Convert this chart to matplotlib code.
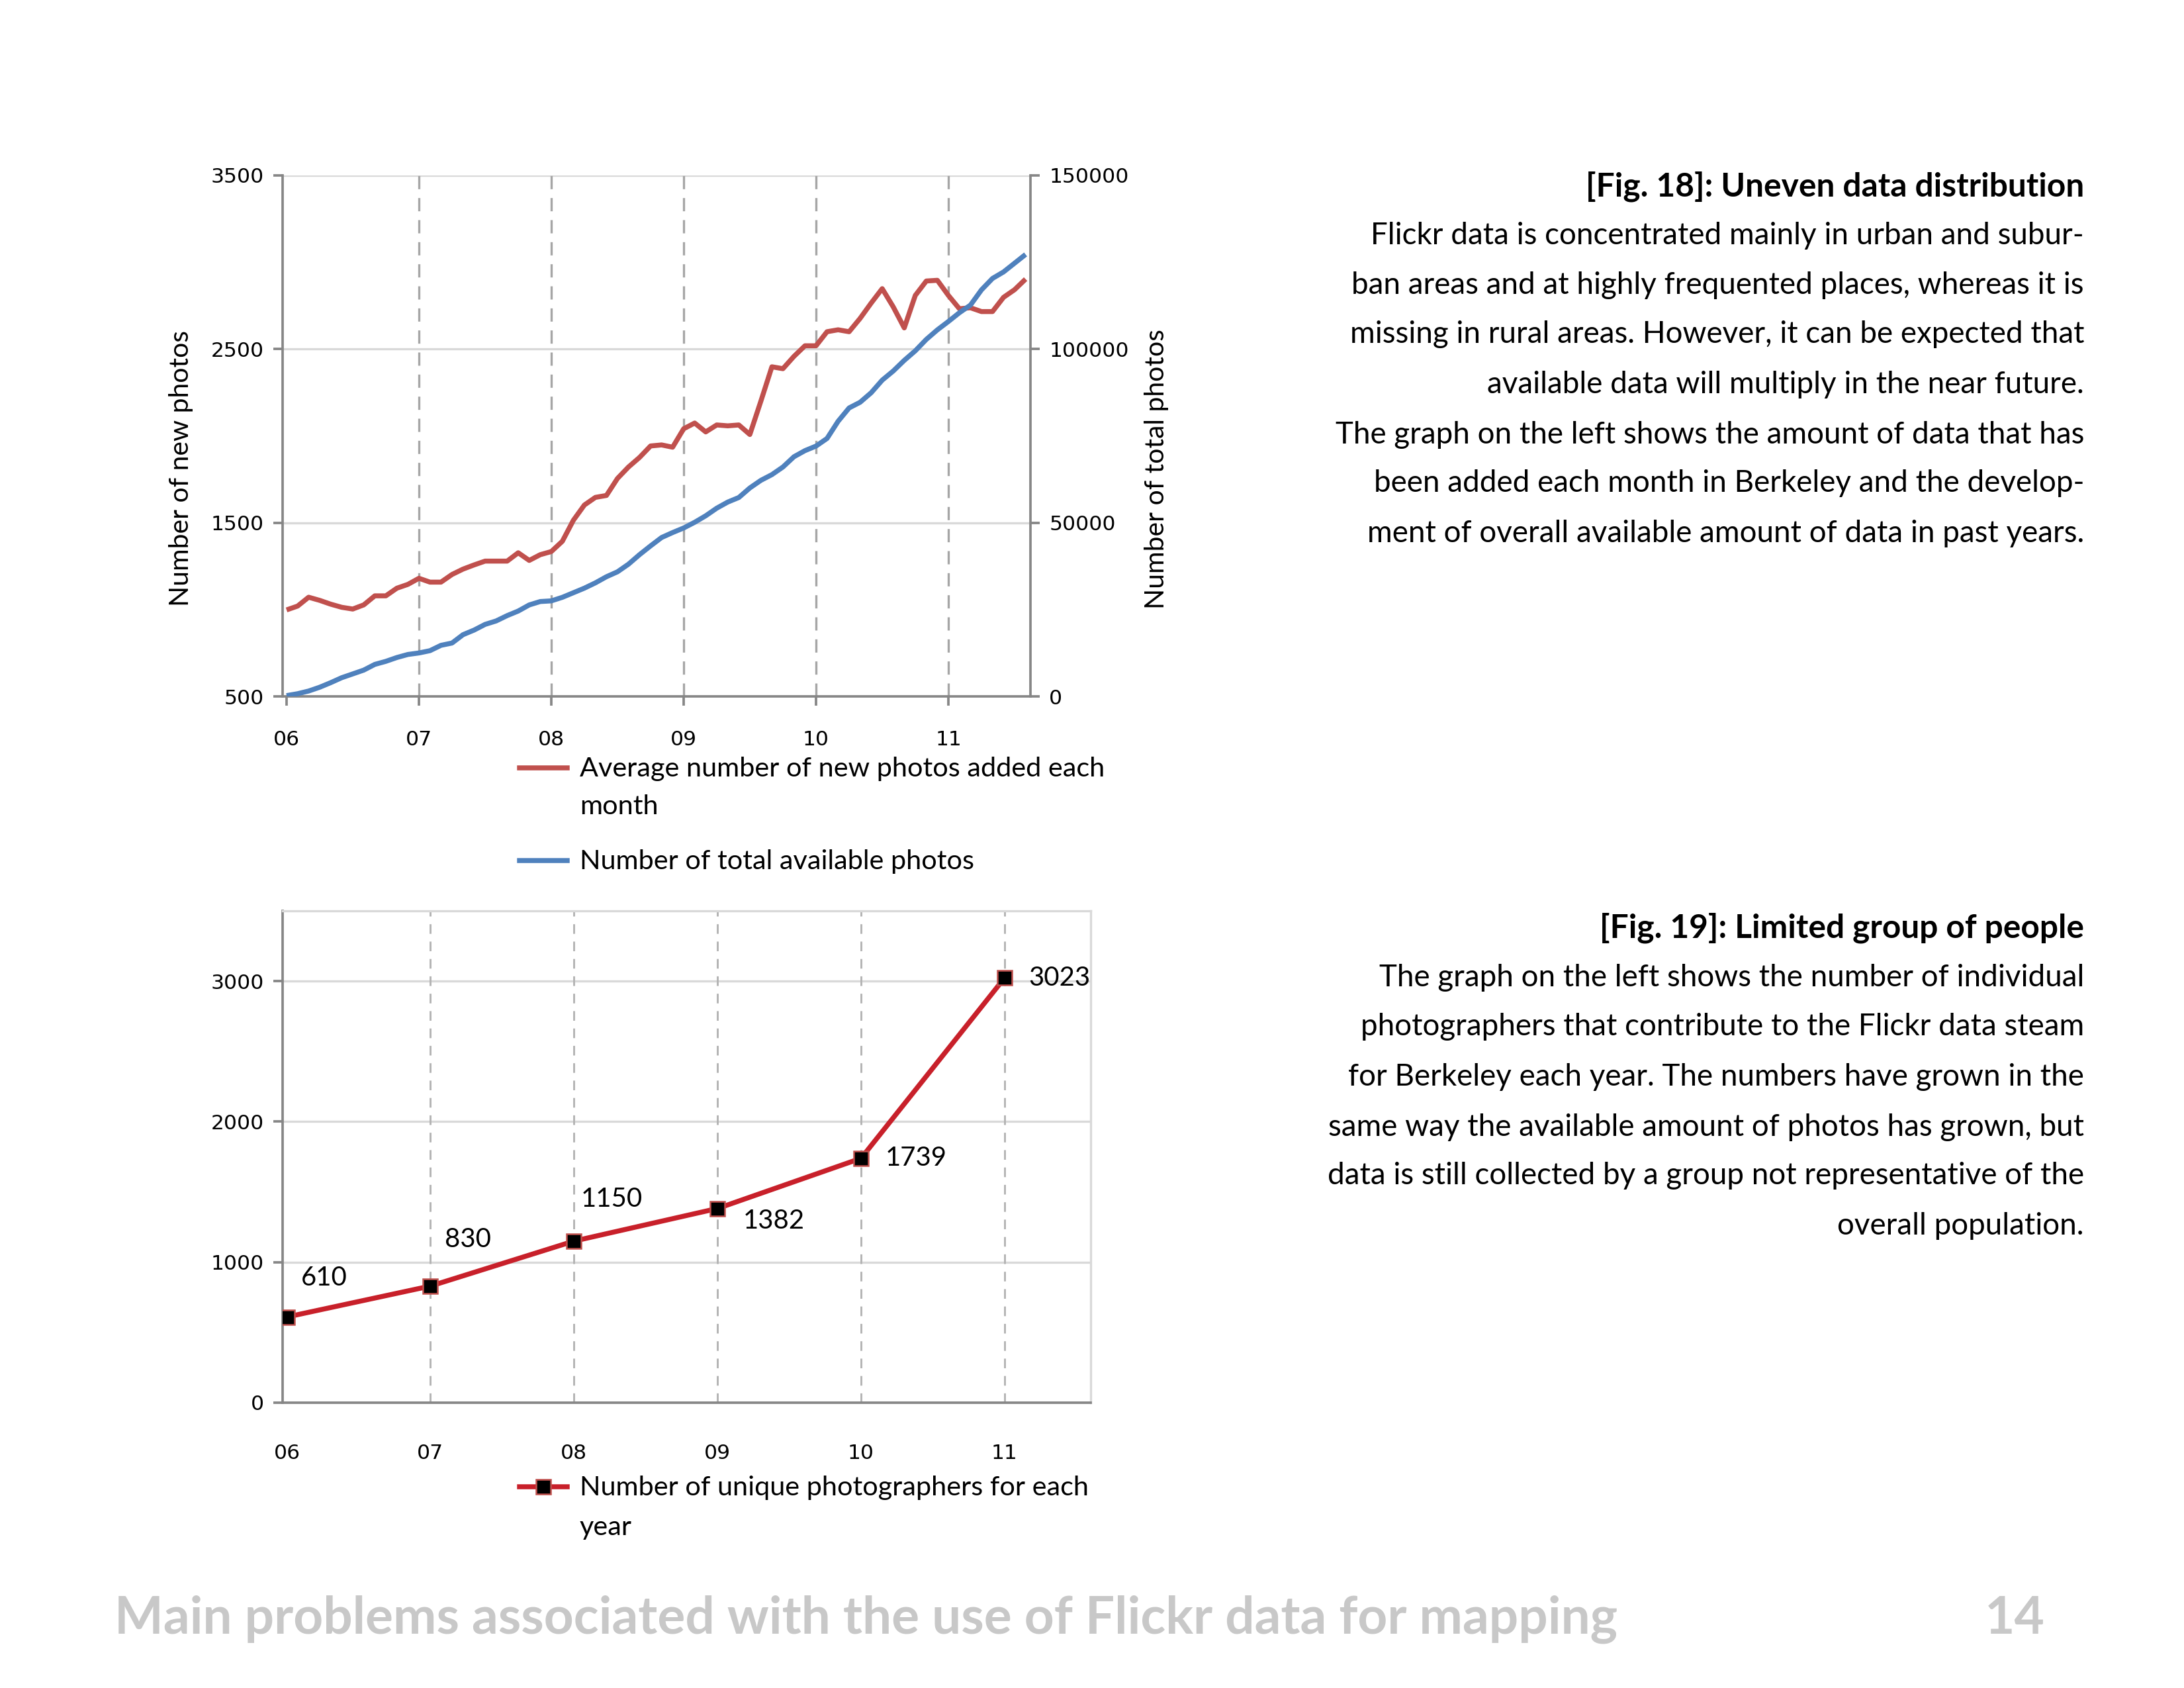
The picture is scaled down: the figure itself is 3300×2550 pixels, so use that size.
import matplotlib
matplotlib.use('Agg')
import matplotlib.pyplot as plt
import numpy as np

# monthly values Jan 2006 - Aug 2011
new_photos = [998, 1020, 1071, 1053, 1031, 1013, 1003, 1027, 1079, 1079, 1123, 1145,
              1180, 1158, 1158, 1202, 1233, 1257, 1279, 1279, 1279, 1327, 1283, 1316,
              1334, 1393, 1514, 1602, 1646, 1657, 1755, 1821, 1876, 1942, 1948, 1935,
              2041, 2074, 2023, 2063, 2058, 2063, 2008, 2200, 2398, 2387, 2458, 2519,
              2519, 2600, 2611, 2600, 2677, 2765, 2848, 2743, 2622, 2809, 2892, 2896,
              2809, 2732, 2738, 2716, 2716, 2798, 2842, 2903]
total_photos = [220, 770, 1540, 2630, 3950, 5380, 6470, 7570, 9210, 10090, 11190, 12070,
                12500, 13160, 14700, 15360, 17770, 19090, 20730, 21720, 23260, 24570, 26330, 27310,
                27500, 28520, 29840, 31160, 32690, 34450, 35870, 38070, 40810, 43330, 45740, 47170,
                48490, 50130, 52000, 54190, 55950, 57260, 60010, 62200, 63850, 66040, 69000, 70760,
                72070, 74270, 79200, 83050, 84690, 87430, 91050, 93680, 96750, 99500, 102790, 105530,
                107940, 110470, 112660, 117050, 120340, 122210, 124730, 127250]
year_labels = ['06', '07', '08', '09', '10', '11']
photographers = [610, 830, 1150, 1382, 1739, 3023]

text_18 = ['Flickr data is concentrated mainly in urban and subur-',
           'ban areas and at highly frequented places, whereas it is',
           'missing in rural areas. However, it can be expected that',
           'available data will multiply in the near future.',
           'The graph on the left shows the amount of data that has',
           'been added each month in Berkeley and the develop-',
           'ment of overall available amount of data in past years.']
text_19 = ['The graph on the left shows the number of individual',
           'photographers that contribute to the Flickr data steam',
           'for Berkeley each year. The numbers have grown in the',
           'same way the available amount of photos has grown, but',
           'data is still collected by a group not representative of the',
           'overall population.']

W, H = 3300, 2550
fig = plt.figure(figsize=(11, 8.5), dpi=300)
renderer = fig.canvas.get_renderer()

BODY = 'Lato'
TICK = 'DejaVu Sans'
AXC = '#868686'
GRID = '#d9d9d9'
VGRID = '#a6a6a6'


def fx(x):
    return x / W


def fy(y):
    return 1 - y / H


def rect(l, t, r, b):
    return [fx(l), fy(b), (r - l) / W, (b - t) / H]


def fit(text, width, **kw):
    # font size that makes the text this many pixels wide
    t = fig.text(0, 0, text, fontsize=10, **kw)
    w = t.get_window_extent(renderer).width
    t.remove()
    return 10 * width / w


body_fs = fit(text_18[0], 1075, family=BODY)
title_fs = fit('[Fig. 18]: Uneven data distribution', 753, family=BODY, weight='bold')
tick_fs = fit('3500', 80, family=TICK)

# ---- top chart ----
ax = fig.add_axes(rect(427, 265, 1557, 1052))
x = np.arange(len(new_photos)) / 12
ax.plot(x, new_photos, color='#c0504d', lw=1.8, solid_capstyle='butt', zorder=3)
ax.set_xlim(-0.03, 5.62)
ax.set_ylim(500, 3500)
ax.set_yticks([500, 1500, 2500, 3500])
ax.set_xticks(range(6))
ax.set_xticklabels(year_labels)
ax.grid(axis='y', color=GRID, lw=0.8)
for i in range(1, 6):
    ax.axvline(i, color=VGRID, lw=0.8, ls=(0, (6, 4)), zorder=1)
ax.set_axisbelow(True)
for s in ['top', 'right']:
    ax.spines[s].set_visible(False)
for s in ['left', 'bottom']:
    ax.spines[s].set_color(AXC)
    ax.spines[s].set_linewidth(0.9)
ax.tick_params(colors=AXC, labelcolor='black', labelsize=tick_fs, length=3.3, width=0.9)
ax.tick_params(axis='x', pad=9)
for lb in ax.get_xticklabels() + ax.get_yticklabels():
    lb.set_family(TICK)

ax2 = ax.twinx()
ax2.plot(x, total_photos, color='#4f81bd', lw=1.8, solid_capstyle='butt', zorder=3)
ax2.set_ylim(0, 150000)
ax2.set_yticks([0, 50000, 100000, 150000])
for s in ['top', 'left', 'bottom']:
    ax2.spines[s].set_visible(False)
ax2.spines['right'].set_color(AXC)
ax2.spines['right'].set_linewidth(0.9)
ax2.tick_params(colors=AXC, labelcolor='black', labelsize=tick_fs, length=3.3, width=0.9)
for lb in ax2.get_yticklabels():
    lb.set_family(TICK)

lab_fs = fit('Number of new photos', 417, family=BODY)
fig.text(fx(274), fy(707), 'Number of new photos', rotation=90, ha='center', va='center',
         fontsize=lab_fs, family=BODY)
fig.text(fx(1747), fy(709), 'Number of total photos', rotation=90, ha='center', va='center',
         fontsize=lab_fs, family=BODY)

leg_fs = fit('Average number of new photos added each', 793, family=BODY)
fig.add_artist(plt.Line2D([fx(785), fx(857)], [fy(1160), fy(1160)], color='#c0504d', lw=1.8))
fig.add_artist(plt.Line2D([fx(785), fx(857)], [fy(1300), fy(1300)], color='#4f81bd', lw=1.8))
fig.text(fx(876), fy(1162), 'Average number of new photos added each', va='center',
         fontsize=leg_fs, family=BODY)
fig.text(fx(876), fy(1219), 'month', va='center', fontsize=leg_fs, family=BODY)
fig.text(fx(876), fy(1301), 'Number of total available photos', va='center',
         fontsize=leg_fs, family=BODY)

# ---- bottom chart ----
bx = fig.add_axes(rect(427, 1376, 1648, 2119))
xi = np.arange(len(photographers))
bx.plot(xi, photographers, color='#c8202a', lw=1.8, marker='s', ms=5.2,
        mfc='black', mec='#c0504d', mew=0.6, zorder=3)
bx.set_xlim(-0.03, 5.6)
bx.set_ylim(0, 3500)
bx.set_yticks([0, 1000, 2000, 3000])
bx.set_xticks(xi)
bx.set_xticklabels(year_labels)
bx.grid(axis='y', color=GRID, lw=0.8)
for i in range(1, 6):
    bx.axvline(i, color='#b4b4b4', lw=0.7, ls=(0, (5, 4)), zorder=1)
bx.set_axisbelow(True)
for s in ['top', 'right']:
    bx.spines[s].set_color(GRID)
    bx.spines[s].set_linewidth(0.8)
for s in ['left', 'bottom']:
    bx.spines[s].set_color(AXC)
    bx.spines[s].set_linewidth(0.9)
bx.tick_params(colors=AXC, labelcolor='black', labelsize=tick_fs, length=3.3, width=0.9)
bx.tick_params(axis='x', length=0, pad=15)
for lb in bx.get_xticklabels() + bx.get_yticklabels():
    lb.set_family(TICK)

dl_fs = fit('3023', 93, family=BODY)
offsets = [(0.1, 280), (0.1, 330), (0.05, 300), (0.18, -90), (0.17, 0), (0.17, 0)]
for i, v in enumerate(photographers):
    dx, dy = offsets[i]
    bx.text(i + dx, v + dy, str(v), ha='left', va='center', fontsize=dl_fs, family=BODY)

fig.add_artist(plt.Line2D([fx(785), fx(857)], [fy(2246), fy(2246)], color='#c8202a', lw=1.8))
fig.add_artist(plt.Line2D([fx(821)], [fy(2246)], marker='s', ms=5.2, mfc='black',
                          mec='#c0504d', mew=0.6, lw=0))
fig.text(fx(876), fy(2248), 'Number of unique photographers for each', va='center',
         fontsize=leg_fs, family=BODY)
fig.text(fx(876), fy(2307), 'year', va='center', fontsize=leg_fs, family=BODY)

# ---- side text ----
fig.text(fx(3149), fy(282), '[Fig. 18]: Uneven data distribution', ha='right', va='center',
         fontsize=title_fs, family=BODY, weight='bold')
ys = [356, 431, 505, 581, 657, 730, 806]
for t, y in zip(text_18, ys):
    fig.text(fx(3149), fy(y), t, ha='right', va='center', fontsize=body_fs, family=BODY)

fig.text(fx(3149), fy(1402), '[Fig. 19]: Limited group of people', ha='right', va='center',
         fontsize=title_fs, family=BODY, weight='bold')
ys = [1477, 1551, 1627, 1703, 1776, 1852]
for t, y in zip(text_19, ys):
    fig.text(fx(3149), fy(y), t, ha='right', va='center', fontsize=body_fs, family=BODY)

# ---- footer ----
foot = 'Main problems associated with the use of Flickr data for mapping'
foot_fs = fit(foot, 2269, family=BODY, weight='bold')
fig.text(fx(173), fy(2446), foot, va='center', fontsize=foot_fs, family=BODY, weight='bold',
         color='#c8c8c8')
fig.text(fx(3090), fy(2446), '14', ha='right', va='center', fontsize=foot_fs, family=BODY,
         weight='bold', color='#c8c8c8')

fig.savefig('out.png', dpi=300)
